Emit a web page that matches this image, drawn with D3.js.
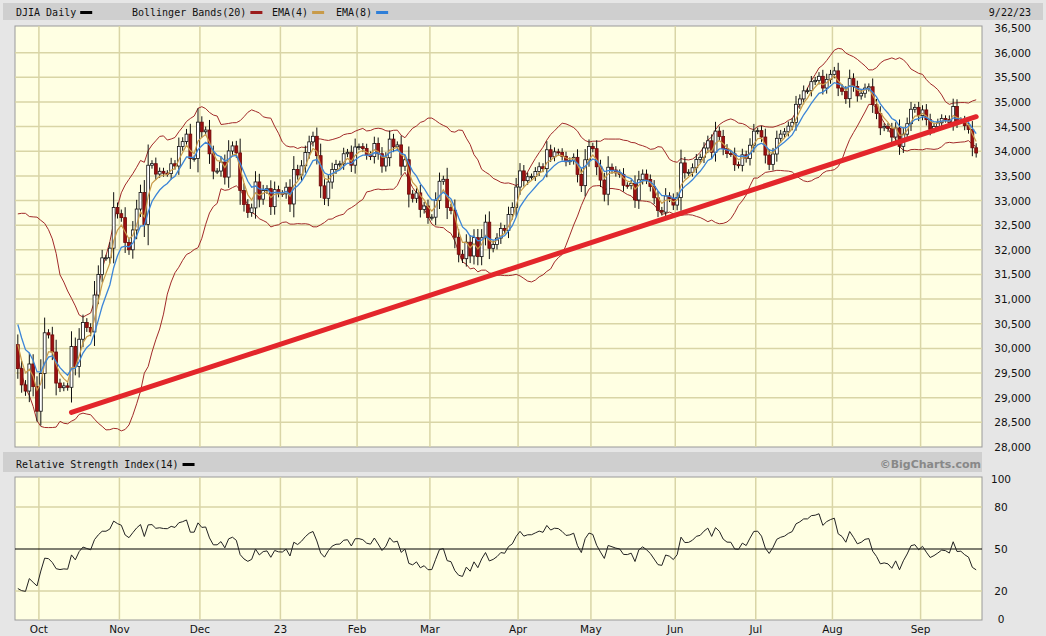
<!DOCTYPE html>
<html><head><meta charset="utf-8">
<script src="https://cdn.jsdelivr.net/npm/d3@7"></script>
<style>body{margin:0;background:#e6e6e6;}svg{display:block}</style>
</head><body><svg id="c" width="1046" height="636"></svg>
<script>
// warm-up closes (Aug 25 - Sep 22, 2022) used only for indicators
const warmupCloses=[33291,32283,32098,31791,31510,31656,31318,31146,31581,31775,32152,32381,31105,31135,30962,30822,31020,30706,30184,30077];
const days=[
"2022-09-23","2022-09-26","2022-09-27","2022-09-28","2022-09-29","2022-09-30",
"2022-10-03","2022-10-04","2022-10-05","2022-10-06","2022-10-07","2022-10-10","2022-10-11","2022-10-12","2022-10-13","2022-10-14","2022-10-17","2022-10-18","2022-10-19","2022-10-20","2022-10-21","2022-10-24","2022-10-25","2022-10-26","2022-10-27","2022-10-28","2022-10-31",
"2022-11-01","2022-11-02","2022-11-03","2022-11-04","2022-11-07","2022-11-08","2022-11-09","2022-11-10","2022-11-11","2022-11-14","2022-11-15","2022-11-16","2022-11-17","2022-11-18","2022-11-21","2022-11-22","2022-11-23","2022-11-25","2022-11-28","2022-11-29","2022-11-30",
"2022-12-01","2022-12-02","2022-12-05","2022-12-06","2022-12-07","2022-12-08","2022-12-09","2022-12-12","2022-12-13","2022-12-14","2022-12-15","2022-12-16","2022-12-19","2022-12-20","2022-12-21","2022-12-22","2022-12-23","2022-12-27","2022-12-28","2022-12-29","2022-12-30",
"2023-01-03","2023-01-04","2023-01-05","2023-01-06","2023-01-09","2023-01-10","2023-01-11","2023-01-12","2023-01-13","2023-01-17","2023-01-18","2023-01-19","2023-01-20","2023-01-23","2023-01-24","2023-01-25","2023-01-26","2023-01-27","2023-01-30","2023-01-31",
"2023-02-01","2023-02-02","2023-02-03","2023-02-06","2023-02-07","2023-02-08","2023-02-09","2023-02-10","2023-02-13","2023-02-14","2023-02-15","2023-02-16","2023-02-17","2023-02-21","2023-02-22","2023-02-23","2023-02-24","2023-02-27","2023-02-28",
"2023-03-01","2023-03-02","2023-03-03","2023-03-06","2023-03-07","2023-03-08","2023-03-09","2023-03-10","2023-03-13","2023-03-14","2023-03-15","2023-03-16","2023-03-17","2023-03-20","2023-03-21","2023-03-22","2023-03-23","2023-03-24","2023-03-27","2023-03-28","2023-03-29","2023-03-30","2023-03-31",
"2023-04-03","2023-04-04","2023-04-05","2023-04-06","2023-04-10","2023-04-11","2023-04-12","2023-04-13","2023-04-14","2023-04-17","2023-04-18","2023-04-19","2023-04-20","2023-04-21","2023-04-24","2023-04-25","2023-04-26","2023-04-27","2023-04-28",
"2023-05-01","2023-05-02","2023-05-03","2023-05-04","2023-05-05","2023-05-08","2023-05-09","2023-05-10","2023-05-11","2023-05-12","2023-05-15","2023-05-16","2023-05-17","2023-05-18","2023-05-19","2023-05-22","2023-05-23","2023-05-24","2023-05-25","2023-05-26","2023-05-30","2023-05-31",
"2023-06-01","2023-06-02","2023-06-05","2023-06-06","2023-06-07","2023-06-08","2023-06-09","2023-06-12","2023-06-13","2023-06-14","2023-06-15","2023-06-16","2023-06-20","2023-06-21","2023-06-22","2023-06-23","2023-06-26","2023-06-27","2023-06-28","2023-06-29","2023-06-30",
"2023-07-03","2023-07-05","2023-07-06","2023-07-07","2023-07-10","2023-07-11","2023-07-12","2023-07-13","2023-07-14","2023-07-17","2023-07-18","2023-07-19","2023-07-20","2023-07-21","2023-07-24","2023-07-25","2023-07-26","2023-07-27","2023-07-28","2023-07-31",
"2023-08-01","2023-08-02","2023-08-03","2023-08-04","2023-08-07","2023-08-08","2023-08-09","2023-08-10","2023-08-11","2023-08-14","2023-08-15","2023-08-16","2023-08-17","2023-08-18","2023-08-21","2023-08-22","2023-08-23","2023-08-24","2023-08-25","2023-08-28","2023-08-29","2023-08-30","2023-08-31",
"2023-09-01","2023-09-05","2023-09-06","2023-09-07","2023-09-08","2023-09-11","2023-09-12","2023-09-13","2023-09-14","2023-09-15","2023-09-18","2023-09-19","2023-09-20","2023-09-21","2023-09-22"];
const closes=[
29590,29260,29135,29684,29225,28726,
29490,30317,30274,29927,29297,29203,29240,29211,30039,29635,30186,30524,30424,30334,31083,31500,31837,31839,32034,32861,32733,
32653,32148,32001,32403,32827,33161,32514,33716,33748,33537,33593,33554,33546,33746,33700,34098,34195,34347,33850,33853,34590,
34395,34430,33948,33597,33598,33781,33476,34005,34108,33966,33202,32920,32757,32850,33377,33027,33204,33241,32876,33221,33147,
33136,33270,32930,33631,33518,33704,33973,34190,34303,33910,33297,33045,33375,33630,33734,33744,33949,33978,33717,34086,
34093,34054,33926,33891,34156,33949,33699,33869,34246,34089,34128,33697,33827,33130,33045,33154,32817,32889,32657,
32662,33004,33391,33431,32856,32798,32255,31910,31820,32155,31875,32247,31862,32245,32561,32031,32106,32238,32433,32395,32718,32860,33274,
33601,33403,33483,33486,33587,33685,33647,34030,33887,33988,33977,33897,33787,33809,33876,33531,33302,33827,34098,
34052,33685,33415,33128,33675,33619,33562,33531,33309,33301,33349,33012,33420,33536,33427,33286,33056,32800,32765,33093,33043,32908,
33062,33763,33563,33573,33665,33834,33877,34066,34212,33979,34408,34299,34053,33952,33947,33727,33714,33927,33852,34122,34408,
34418,34288,33922,33734,33944,34262,34347,34395,34509,34586,34952,35061,35225,35228,35411,35438,35520,35282,35459,35560,
35630,35283,35216,35066,35473,35314,35123,35176,35281,35308,34946,34765,34475,34500,34463,34288,34472,34099,34346,34559,34852,34890,34722,
34838,34641,34443,34500,34577,34663,34646,34576,34907,34618,34625,34518,34441,34070,33964];
const trendDays=["2022-10-13","2023-09-22"];
const trendValues=[28700,34700];
const priceTicks=[28000,28500,29000,29500,30000,30500,31000,31500,32000,32500,33000,33500,34000,34500,35000,35500,36000,36500];
const rsiTicks=[0,20,50,80,100];
const monthLabels=["Oct","Nov","Dec","23","Feb","Mar","Apr","May","Jun","Jul","Aug","Sep"];

const svg=d3.select("#c");
const L=15,R=982,T=26,B=447,RT=477,RB=620;
const n=days.length;
const x=d3.scaleBand().domain(days).range([L+1,R-4]).paddingInner(0.25).paddingOuter(0.1);
const step=x.step();
const cx=d=>x(d)+x.bandwidth()/2;
const y=d3.scaleLinear().domain([28000,36500]).range([B,T+2]);
const yr=d3.scaleLinear().domain([0,100]).range([RB-1,RT+2]);

// indicators
const all=warmupCloses.concat(closes), W=warmupCloses.length;
function ema(p){const k=2/(p+1);let e=all[0];return all.map((c,i)=>i?(e=c*k+e*(1-k)):e).slice(W);}
const ema4=ema(4),ema8=ema(8);
const bbU=[],bbL=[];
for(let i=W;i<all.length;i++){const s=all.slice(i-19,i+1),m=d3.mean(s),sd=Math.sqrt(d3.mean(s,v=>(v-m)**2));bbU.push(m+2*sd);bbL.push(m-2*sd);}
let ag=0,al=0;for(let i=1;i<=14;i++){const d=all[i]-all[i-1];if(d>0)ag+=d;else al-=d;}ag/=14;al/=14;
const rsiAll=[];for(let i=15;i<all.length;i++){const d=all[i]-all[i-1];ag=(ag*13+Math.max(d,0))/14;al=(al*13+Math.max(-d,0))/14;rsiAll[i]=100-100/(1+ag/al);}
const rsi=rsiAll.slice(W);

// header bars
svg.append("rect").attr("x",3).attr("y",3).attr("width",1040).attr("height",17).attr("fill","#cfcfcf");
svg.append("rect").attr("x",3).attr("y",452).attr("width",979).attr("height",20).attr("fill","#cfcfcf");
const mono="DejaVu Sans Mono";
function legend(xp,yp,txt,col){svg.append("text").attr("x",xp).attr("y",yp).attr("font-family",mono).attr("font-size",10).attr("fill","#111").text(txt);
 const w=txt.length*6.02;svg.append("rect").attr("x",xp+w+4).attr("y",yp-5).attr("width",12).attr("height",3).attr("fill",col);}
legend(16,16,"DJIA Daily","#000");
legend(132,16,"Bollinger Bands(20)","#9b1c1c");
legend(272,16,"EMA(4)","#c89b4a");
legend(336,16,"EMA(8)","#2f7fd8");
svg.append("text").attr("x",1031).attr("y",16).attr("text-anchor","end").attr("font-family",mono).attr("font-size",10).attr("fill","#111").text("9/22/23");
legend(16,468,"Relative Strength Index(14)","#000");
svg.append("text").attr("x",981).attr("y",468).attr("text-anchor","end").attr("font-family","DejaVu Sans").attr("font-weight","bold").attr("font-size",11).attr("fill","#888").text("©BigCharts.com");

// panels
[[T,B],[RT,RB]].forEach(([a,b])=>svg.append("rect").attr("x",L).attr("y",a).attr("width",R-L).attr("height",b-a).attr("fill","#ffffe3").attr("stroke","#999"));
const grid="#d9d5a6";
const monthStarts=[];days.forEach((d,i)=>{if(i>0&&d.slice(5,7)!==days[i-1].slice(5,7))monthStarts.push(d);});
monthStarts.forEach((d,i)=>{const gx=x(d)-step*x.paddingInner()/2;
 [[T,B],[RT,RB]].forEach(([a,b])=>svg.append("line").attr("x1",gx).attr("x2",gx).attr("y1",a).attr("y2",b).attr("stroke",grid).attr("stroke-width",1.5));
 svg.append("text").attr("x",gx).attr("y",633).attr("text-anchor","middle").attr("font-family","DejaVu Sans").attr("font-size",10.5).attr("fill","#111").text(monthLabels[i]);});
priceTicks.forEach(v=>{if(v>28000&&v<36500)svg.append("line").attr("x1",L).attr("x2",R).attr("y1",y(v)).attr("y2",y(v)).attr("stroke",grid).attr("stroke-width",1.5);
 svg.append("text").attr("x",1031).attr("y",y(v)+4).attr("text-anchor","end").attr("font-family","DejaVu Sans").attr("font-size",10.5).attr("fill","#111").text(d3.format(",")(v));});
rsiTicks.forEach(v=>{if(v>0&&v<100)svg.append("line").attr("x1",L).attr("x2",R).attr("y1",yr(v)).attr("y2",yr(v)).attr("stroke",v===50?"#000":grid).attr("stroke-width",v===50?1.2:1.5);
 svg.append("text").attr("x",1001).attr("y",yr(v)+4).attr("text-anchor","middle").attr("font-family","DejaVu Sans").attr("font-size",10.5).attr("fill","#111").text(v);});

const clip=svg.append("clipPath").attr("id","cp").append("rect").attr("x",L).attr("y",T).attr("width",R-L).attr("height",B-T);
const g=svg.append("g").attr("clip-path","url(#cp)");
const ln=(arr,sc)=>d3.line().x((v,i)=>cx(days[i])).y(v=>sc(v))(arr);
g.append("path").attr("d",ln(bbU,y)).attr("fill","none").attr("stroke","#a12a2a").attr("stroke-width",1);
g.append("path").attr("d",ln(bbL,y)).attr("fill","none").attr("stroke","#a12a2a").attr("stroke-width",1);

// candles
const opens=closes.map((c,i)=>i?closes[i-1]:warmupCloses[W-1]);
days.forEach((d,i)=>{const o=opens[i],c=closes[i],up=c>=o;
 const hi=Math.max(o,c)+Math.abs(c-o)*0.3+60, lo=Math.min(o,c)-Math.abs(c-o)*0.3-60;
 g.append("line").attr("x1",cx(d)).attr("x2",cx(d)).attr("y1",y(hi)).attr("y2",y(lo)).attr("stroke","#111");
 g.append("rect").attr("x",x(d)).attr("width",x.bandwidth()).attr("y",y(Math.max(o,c))).attr("height",Math.max(1,y(Math.min(o,c))-y(Math.max(o,c))))
  .attr("fill",up?"#fff":"#9e1010").attr("stroke",up?"#111":"#6a0a0a").attr("stroke-width",0.8);});
g.append("path").attr("d",ln(ema4,y)).attr("fill","none").attr("stroke","#c89b4a").attr("stroke-width",1.2);
g.append("path").attr("d",ln(ema8,y)).attr("fill","none").attr("stroke","#3c85d8").attr("stroke-width",1.3);
g.append("line").attr("x1",cx(trendDays[0])).attr("x2",cx(trendDays[1])).attr("y1",y(trendValues[0])).attr("y2",y(trendValues[1]))
 .attr("stroke","#e3262b").attr("stroke-width",5).attr("stroke-linecap","round");

svg.append("path").attr("d",ln(rsi,yr)).attr("fill","none").attr("stroke","#222").attr("stroke-width",1);
</script></body></html>
